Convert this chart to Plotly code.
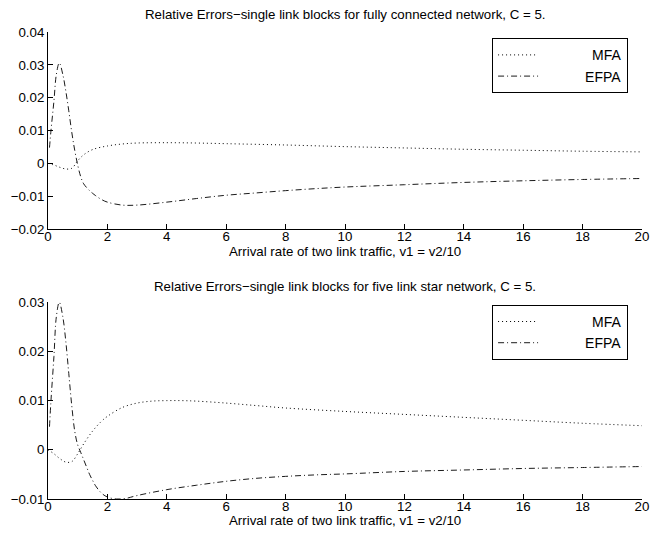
import plotly.graph_objects as go

# ---- data ----
x_top_efpa = [0.05, 0.1, 0.2, 0.28, 0.38, 0.5, 0.6, 0.7, 0.8, 0.9, 1.0, 1.1, 1.2, 1.4, 1.5, 1.6, 1.8, 2.0, 2.5, 3, 4, 5, 6, 7, 8, 9, 10, 12, 14, 16, 18, 20]
y_top_efpa = [0.0048, 0.010, 0.019, 0.027, 0.0306, 0.027, 0.022, 0.016, 0.0095, 0.004, -0.0005, -0.004, -0.0062, -0.0083, -0.0091, -0.0098, -0.011, -0.0118, -0.0127, -0.0127, -0.0118, -0.0107, -0.0097, -0.009, -0.0083, -0.0077, -0.0072, -0.0065, -0.0058, -0.0053, -0.0049, -0.0046]

x_top_mfa = [0.0, 0.2, 0.4, 0.6, 0.8, 1.0, 1.2, 1.5, 2.0, 2.5, 3, 4, 5, 6, 8, 10, 12, 14, 16, 18, 20]
y_top_mfa = [0.0, -0.0005, -0.0012, -0.0017, -0.0015, 0.0008, 0.0026, 0.0042, 0.0053, 0.0059, 0.0062, 0.0063, 0.0062, 0.0060, 0.0056, 0.0051, 0.0047, 0.0043, 0.0040, 0.0037, 0.0035]

x_bot_efpa = [0.05, 0.1, 0.2, 0.28, 0.38, 0.5, 0.6, 0.7, 0.8, 0.9, 1.0, 1.1, 1.2, 1.3, 1.4, 1.5, 1.6, 1.8, 2.0, 2.3, 2.6, 3, 4, 5, 6, 7, 8, 9, 10, 12, 14, 16, 18, 20]
y_bot_efpa = [0.0047, 0.010, 0.019, 0.027, 0.0300, 0.027, 0.022, 0.0155, 0.009, 0.0038, 0.001, -0.0005, -0.002, -0.0035, -0.005, -0.0062, -0.0073, -0.0088, -0.0096, -0.0100, -0.0099, -0.0093, -0.0081, -0.0072, -0.0064, -0.0058, -0.0054, -0.0051, -0.0049, -0.0044, -0.0041, -0.0038, -0.0036, -0.0034]

x_bot_mfa = [0.0, 0.2, 0.4, 0.6, 0.8, 1.0, 1.2, 1.5, 1.8, 2.0, 2.5, 3, 3.5, 4, 4.5, 5, 6, 7, 8, 10, 12, 14, 16, 18, 20]
y_bot_mfa = [0.0, -0.0008, -0.0018, -0.0025, -0.0024, -0.0008, 0.0012, 0.0038, 0.0058, 0.0068, 0.0086, 0.0095, 0.0099, 0.0100, 0.0100, 0.0099, 0.0095, 0.0090, 0.0085, 0.0078, 0.0072, 0.0066, 0.0060, 0.0054, 0.0049]

x_ticks = [0, 2, 4, 6, 8, 10, 12, 14, 16, 18, 20]
y_ticks_top = [-0.02, -0.01, 0, 0.01, 0.02, 0.03, 0.04]
y_ticktext_top = ["\u22120.02", "\u22120.01", "0", "0.01", "0.02", "0.03", "0.04"]
y_ticks_bot = [-0.01, 0, 0.01, 0.02, 0.03]
y_ticktext_bot = ["\u22120.01", "0", "0.01", "0.02", "0.03"]

title_top = "Relative Errors\u2212single link blocks for fully connected network, C = 5."
title_bot = "Relative Errors\u2212single link blocks for five link star network, C = 5."
x_label = "Arrival rate of two link traffic, v1 = v2/10"
name_mfa = "\u2002" * 7 + "MFA"
name_efpa = "\u2002" * 6 + "EFPA"

FONT = "Liberation Sans, Arial, Helvetica, sans-serif"
DOT = "1px,3px"
DASHDOT = "6px,3px,1px,3px"
FS = 13.3

fig = go.Figure()
fig.add_trace(go.Scatter(x=x_top_mfa, y=y_top_mfa, mode="lines", name=name_mfa,
                         line=dict(color="black", width=1, dash=DOT, shape="spline"),
                         xaxis="x", yaxis="y", legend="legend"))
fig.add_trace(go.Scatter(x=x_top_efpa, y=y_top_efpa, mode="lines", name=name_efpa,
                         line=dict(color="black", width=0.9, dash=DASHDOT, shape="spline"),
                         xaxis="x", yaxis="y", legend="legend"))
fig.add_trace(go.Scatter(x=x_bot_mfa, y=y_bot_mfa, mode="lines", name=name_mfa,
                         line=dict(color="black", width=1, dash=DOT, shape="spline"),
                         xaxis="x2", yaxis="y2", legend="legend2"))
fig.add_trace(go.Scatter(x=x_bot_efpa, y=y_bot_efpa, mode="lines", name=name_efpa,
                         line=dict(color="black", width=0.9, dash=DASHDOT, shape="spline"),
                         xaxis="x2", yaxis="y2", legend="legend2"))

axis_common = dict(showline=True, linecolor="black", linewidth=1, ticks="inside",
                   ticklen=5, tickcolor="black", tickwidth=1, showgrid=False,
                   zeroline=False, mirror=False, automargin=False,
                   tickfont=dict(size=FS, color="black", family=FONT))

legend_common = dict(xanchor="left", yanchor="top", bordercolor="black", borderwidth=1,
                     bgcolor="white", font=dict(size=14, family=FONT),
                     tracegroupgap=0, itemwidth=40)

fig.update_layout(
    width=651, height=534,
    margin=dict(l=47.7, r=9, t=31.7, b=34.7),
    paper_bgcolor="white", plot_bgcolor="white",
    font=dict(family=FONT, color="black"),
    xaxis=dict(domain=[0, 1], range=[0, 20], tickvals=x_ticks, anchor="y",
               ticklabelstandoff=-5, ticklabeloverflow="allow", **axis_common),
    yaxis=dict(domain=[0.578, 1], range=[-0.02, 0.04], tickvals=y_ticks_top,
               ticktext=y_ticktext_top, anchor="x", **axis_common),
    xaxis2=dict(domain=[0, 1], range=[0, 20], tickvals=x_ticks, anchor="y2",
                ticklabelstandoff=-5, ticklabeloverflow="allow", **axis_common),
    yaxis2=dict(domain=[0, 0.4213], range=[-0.01, 0.03], tickvals=y_ticks_bot,
                ticktext=y_ticktext_bot, anchor="x2", **axis_common),
    legend=dict(x=0.7476, y=0.9865, **legend_common),
    legend2=dict(x=0.7476, y=0.4156, **legend_common),
    annotations=[
        dict(text=title_top, x=0.5, y=1.0377, xref="paper", yref="paper",
             showarrow=False, xanchor="center", yanchor="middle", font=dict(size=FS)),
        dict(text=x_label, x=0.5, y=0.530, xref="paper", yref="paper",
             showarrow=False, xanchor="center", yanchor="middle", font=dict(size=FS)),
        dict(text=title_bot, x=0.5, y=0.454, xref="paper", yref="paper",
             showarrow=False, xanchor="center", yanchor="middle", font=dict(size=FS)),
        dict(text=x_label, x=0.5, y=-0.0453, xref="paper", yref="paper",
             showarrow=False, xanchor="center", yanchor="middle", font=dict(size=FS)),
    ],
)

# remove the default 8px page margin so the figure sits at the window's top-left corner
fig.write_html("out.html", config={"displayModeBar": False},
               post_script="document.body.style.margin='0';")
